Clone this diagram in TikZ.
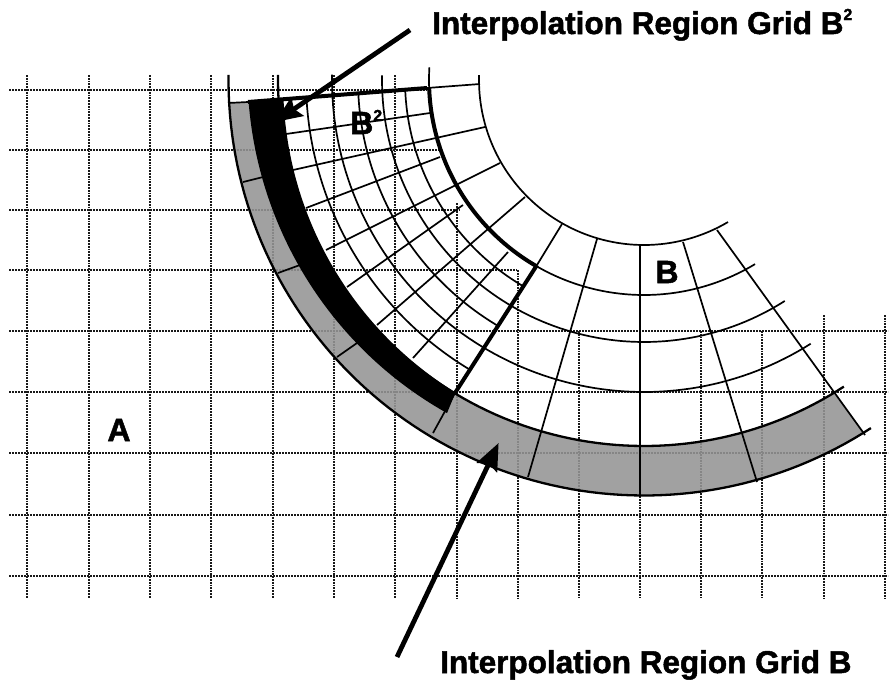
\documentclass[tikz,border=0pt]{standalone}
\usepackage{fontspec}
\setmainfont{Liberation Sans}[BoldFeatures={FakeBold=1.6}]
\usetikzlibrary{arrows.meta}
\tikzset{
  gridh/.style={black!90,line width=1.2pt,dash pattern=on 1.8pt off 1.2pt},
  gridv/.style={black!90,line width=1.3pt,dash pattern=on 1.8pt off 1pt},
  thinb/.style={black,line width=1.7pt},
  edgeb/.style={black,line width=2.3pt},
  thickb/.style={black,line width=4pt},
  band/.style={fill=black!42,fill opacity=.88,draw=none},
  pointer/.style={black,line width=4.8pt,-{Stealth[length=27pt,width=22pt,inset=4pt]}},
  big/.style={inner sep=0pt,font=\fontsize{31.5}{36}\selectfont\bfseries},
  letter/.style={inner sep=0pt,font=\fontsize{32}{36}\selectfont\bfseries}
}
\newcommand{\arcR}[4]{\draw[#1] plot[domain=#3:#4,samples=90] ({644+#2*cos(\x)},{80+#2*sin(\x)});}
\begin{document}
\begin{tikzpicture}[x=1pt,y=-1pt]
\useasboundingbox (0,0) rectangle (896,681);
\fill[white] (0,0) rectangle (896,681);
% Grid A
\foreach \g/\e in {90/427,150/440,210/460,270/517,331/888,392/888,453/888,515/888,576/888}
  \draw[gridh] (9,\g) -- (\e,\g);
\foreach \g/\s in {27/75,89/75,150/75,211/75,273/75,334/75,395/75,457/203,518/270,579/331,640/331,701/331,762/331,824/315,885/315}
  \draw[gridv] (\g,\s) -- (\g,598);
% shaded interpolation band of grid B
\fill[band] plot[domain=176.8:58.1,samples=120] ({644+415.5*cos(\x)},{80+415.5*sin(\x)})
  -- plot[domain=58.8:176.8,samples=120] ({644+366*cos(\x)},{80+366*sin(\x)}) -- cycle;
% black interpolation band of grid B2
\fill[black] plot[domain=176.8:120.6,samples=80] ({644+(396-9*(176.8-\x)/56.2)*cos(\x)},{80+(396-9*(176.8-\x)/56.2)*sin(\x)})
  -- plot[domain=121.1:176.8,samples=80] ({644+(361+4*(176.8-\x)/55.7)*cos(\x)},{80+(361+4*(176.8-\x)/55.7)*sin(\x)}) -- cycle;
% arcs of grid B
\arcR{thinb}{165}{59.4}{181.7}
\arcR{thinb}{215}{58.9}{120}
\arcR{thinb}{215}{177.9}{183.4}
\arcR{thickb}{215}{120}{177.9}
\arcR{thinb}{262}{57.5}{181}
\arcR{thinb}{312}{57.7}{181}
\arcR{edgeb}{366}{56.9}{180.8}
\arcR{edgeb}{415.5}{56.9}{180.7}
% extra arcs of grid B2
\arcR{thinb}{239}{120.3}{177.6}
\arcR{thinb}{286}{120.7}{177.6}
\arcR{thinb}{338}{121}{177}
% radial lines of grid B and B2
\draw[thinb] (597,239) -- (528,477);
\draw[thinb] (640,245) -- (640,497);
\draw[thinb] (683,242) -- (757,482);
\draw[thinb] (717,230) -- (865,435);
\draw[thinb] (293,170) -- (485,127);
\draw[thinb] (286,134) -- (430,113);
\draw[thinb] (306,208) -- (440,157);
\draw[thinb] (326,250) -- (500,163);
\draw[thinb] (347,287) -- (463,205);
\draw[thinb] (377,325) -- (525,197);
\draw[thinb] (413,358) -- (508,252);
\draw[thinb] (243,182) -- (263,177);
\draw[thinb] (278,273) -- (300,265);
\draw[thinb] (337,357) -- (357,343);
% top boundary
\draw[thinb] (228,103) -- (248,102);
\draw[thickb] (248,102) -- (427,88);
\draw[thinb] (427,88) -- (480,84);
% boundary of B2 towards the band
\draw[thinb] (433,433) -- (455,393);
\draw[thickb] (455,393) -- (537,265);
\draw[thinb] (537,265) -- (562,224);
% pointers
\coordinate (a1s) at (410,30);
\coordinate (a1t) at (275,122);
\coordinate (a2s) at (397,657);
\coordinate (a2t) at (498.6,443);
\draw[pointer] (a1s) -- (a1t);
\draw[pointer] (a2s) -- (a2t);
% labels
\node[big,anchor=base west] (t1) at (432,34) {Interpolation Region Grid B\raisebox{14pt}{\fontsize{16}{16}\selectfont 2}};
\node[big,anchor=base west] (t2) at (440,673) {Interpolation Region Grid B};
\node[letter,anchor=base] (la) at (119,441) {A};
\node[letter,anchor=base] (lb) at (667,283) {B};
\node[letter,anchor=base west] (lb2) at (350,134) {B\raisebox{13pt}{\fontsize{16}{16}\selectfont 2}};
\end{tikzpicture}
\end{document}
